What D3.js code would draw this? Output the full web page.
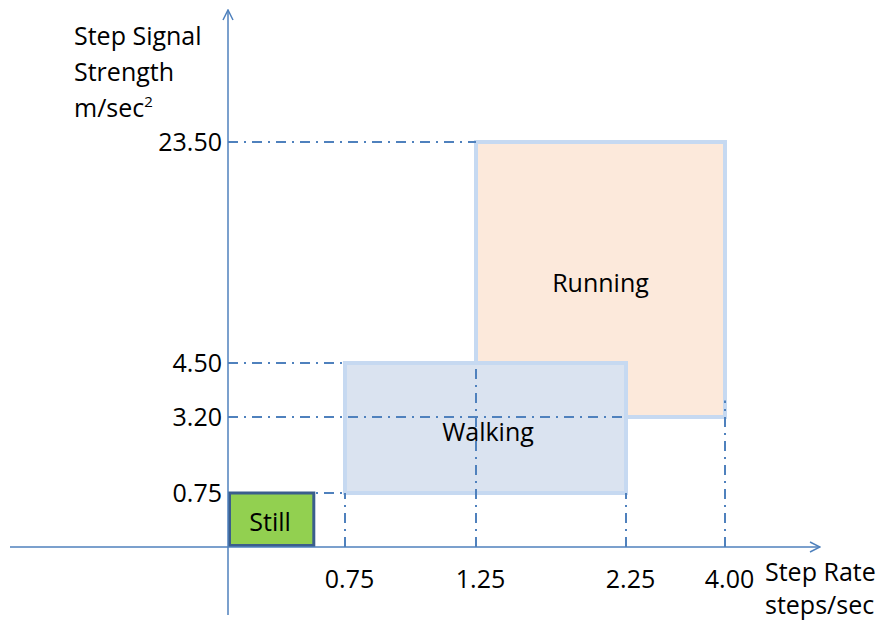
<!DOCTYPE html>
<html>
<head>
<meta charset="utf-8">
<script src="https://cdn.jsdelivr.net/npm/d3@7"></script>
<style>
  body { margin: 0; background: #fff; }
  svg text { font-family: "Open Sans", Lato, sans-serif; fill: #000; }
</style>
</head>
<body>
<div id="chart"></div>
<script>
// activity zones (step rate in steps/sec, signal strength in m/sec^2)
const zones = ["Running", "Walking", "Still"];
const rateMin = [1.25, 0.75, 0];
const rateMax = [4.00, 2.25, 0.55];
const strengthMin = [3.20, 0.75, 0];
const strengthMax = [23.50, 4.50, 0.75];
const zoneFill = ["#fce9db", "#dae3f0", "#92d050"];
const zoneStroke = ["#c6d9f1", "#c6d9f1", "#3b5e8c"];

// tick labels
const xTicks = [0.75, 1.25, 2.25, 4.00];
const yTicks = [0.75, 3.20, 4.50, 23.50];

// guide lines: horizontal ones run from the axis to hGuideEnd, vertical ones up to vGuideEnd
const hGuideEnd = [0.75, 2.25, 0.75, 1.25];   // for yTicks
const vGuideEnd = [0.75, 4.50, 0.75, 3.60];   // for xTicks

const width = 888, height = 620;
const fontSize = "25px";

const svg = d3.select("#chart").append("svg")
    .attr("width", width)
    .attr("height", height);

// schematic axes: piecewise scales so each threshold sits where the drawing puts it
const x = d3.scaleLinear()
    .domain([0, 0.75, 1.25, 2.25, 4.00])
    .range([228, 345, 476, 626, 725]);
const y = d3.scaleLinear()
    .domain([0, 0.75, 3.20, 4.50, 23.50])
    .range([547, 493, 417, 363, 142]);

const axisColor = "#4f81bd";

// arrow head
svg.append("defs").append("marker")
    .attr("id", "arrow")
    .attr("viewBox", "0 0 12 12")
    .attr("refX", 11).attr("refY", 6)
    .attr("markerWidth", 12).attr("markerHeight", 12)
    .attr("markerUnits", "userSpaceOnUse")
    .attr("orient", "auto")
    .append("path")
    .attr("d", "M1,1 L11,6 L1,11")
    .attr("fill", "none")
    .attr("stroke", axisColor)
    .attr("stroke-width", 1.5);

// running then walking box (walking lies on top)
[0, 1].forEach(i => {
    svg.append("rect")
        .attr("x", x(rateMin[i]))
        .attr("y", y(strengthMax[i]))
        .attr("width", x(rateMax[i]) - x(rateMin[i]))
        .attr("height", y(strengthMin[i]) - y(strengthMax[i]))
        .attr("fill", zoneFill[i])
        .attr("stroke", zoneStroke[i])
        .attr("stroke-width", 4);
});

// dash-dot guides
const guides = svg.append("g")
    .attr("stroke", "#4f81bd")
    .attr("stroke-width", 2)
    .attr("stroke-dasharray", "10,6,2,6");

guides.selectAll(".h-guide")
    .data(yTicks)
    .enter().append("line")
    .attr("class", "h-guide")
    .attr("x1", x(0))
    .attr("x2", (d, i) => x(hGuideEnd[i]))
    .attr("y1", d => y(d))
    .attr("y2", d => y(d));

guides.selectAll(".v-guide")
    .data(xTicks)
    .enter().append("line")
    .attr("class", "v-guide")
    .attr("x1", d => x(d))
    .attr("x2", d => x(d))
    .attr("y1", y(0))
    .attr("y2", (d, i) => y(vGuideEnd[i]));

// still box on top of the guides
svg.append("rect")
    .attr("x", x(rateMin[2]) + 1.5)
    .attr("y", y(strengthMax[2]))
    .attr("width", x(rateMax[2]) - x(rateMin[2]) - 1.5)
    .attr("height", y(strengthMin[2]) - y(strengthMax[2]) - 1.5)
    .attr("fill", zoneFill[2])
    .attr("stroke", zoneStroke[2])
    .attr("stroke-width", 3);

// zone labels
const labelAt = [[2.08, 11.5], [1.33, 2.75], [0.27, 0.36]];
zones.forEach((z, i) => {
    svg.append("text")
        .attr("x", x(labelAt[i][0]))
        .attr("y", y(labelAt[i][1]))
        .attr("text-anchor", "middle")
        .attr("dominant-baseline", "central")
        .style("font-size", fontSize)
        .text(z);
});

// axes lines
svg.append("line")
    .attr("x1", x(0)).attr("x2", x(0))
    .attr("y1", height - 5).attr("y2", 10)
    .attr("stroke", axisColor).attr("stroke-width", 1.5)
    .attr("marker-end", "url(#arrow)");
svg.append("line")
    .attr("x1", 10).attr("x2", 820)
    .attr("y1", y(0)).attr("y2", y(0))
    .attr("stroke", axisColor).attr("stroke-width", 1.5)
    .attr("marker-end", "url(#arrow)");

// tick labels through d3 axes
const xAxis = d3.axisBottom(x)
    .tickValues(xTicks)
    .tickFormat(d3.format(".2f"))
    .tickSize(0)
    .tickPadding(23);
const xg = svg.append("g")
    .attr("transform", `translate(0, ${y(0)})`)
    .call(xAxis);
xg.select(".domain").remove();
xg.selectAll("text")
    .style("font-size", fontSize)
    .style("font-family", "'Open Sans', sans-serif")
    .attr("fill", "#000")
    .attr("dx", 4);

const yAxis = d3.axisLeft(y)
    .tickValues(yTicks)
    .tickFormat(d3.format(".2f"))
    .tickSize(0)
    .tickPadding(6);
const yg = svg.append("g")
    .attr("transform", `translate(${x(0)}, 0)`)
    .call(yAxis);
yg.select(".domain").remove();
yg.selectAll("text")
    .style("font-size", fontSize)
    .style("font-family", "'Open Sans', sans-serif")
    .attr("fill", "#000");

// axis titles
const yTitle = svg.append("text")
    .style("font-size", fontSize);
yTitle.append("tspan").attr("x", 74).attr("y", 45).text("Step Signal");
yTitle.append("tspan").attr("x", 74).attr("y", 81).text("Strength");
yTitle.append("tspan").attr("x", 74).attr("y", 117).text("m/sec");
yTitle.append("tspan").attr("dy", -10).style("font-size", "15px").text("2");

const xTitle = svg.append("text")
    .style("font-size", fontSize);
xTitle.append("tspan").attr("x", 765).attr("y", 581).text("Step Rate");
xTitle.append("tspan").attr("x", 765).attr("y", 614).text("steps/sec");
</script>
</body>
</html>
